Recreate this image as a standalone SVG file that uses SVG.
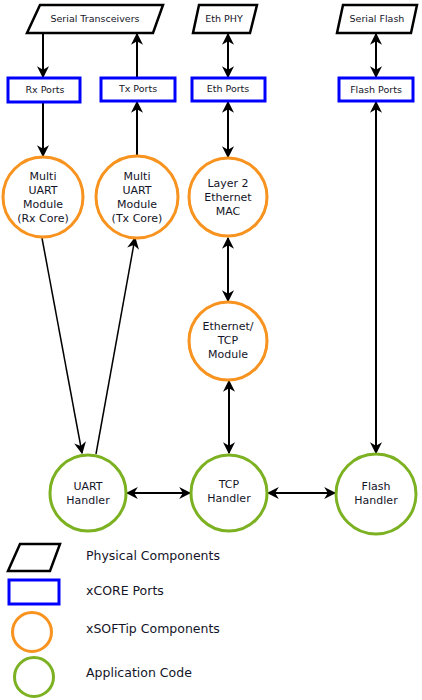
<svg xmlns="http://www.w3.org/2000/svg" width="422" height="700" viewBox="0 0 422 700">
<style>
.phys{fill:#fff;stroke:#000;stroke-width:2.5}
.port{fill:#fff;stroke:#0000ff;stroke-width:3}
.ip{fill:#fff;stroke:#f7931e;stroke-width:3}
.app{fill:#fff;stroke:#7cb122;stroke-width:3}
text{font-family:"DejaVu Sans",Verdana,sans-serif;fill:#141428;text-anchor:middle}
.s{font-size:9.5px}
.c{font-size:11px}
.l{font-size:12.5px;text-anchor:start}
.cn{stroke:#000;stroke-width:2;fill:none}
.dg{stroke:#000;stroke-width:1.5;fill:none}
</style>
<defs>
<marker id="ah" viewBox="0 0 10 10" refX="9" refY="5" markerWidth="12" markerHeight="12" markerUnits="userSpaceOnUse" orient="auto-start-reverse">
<path d="M0,0 L10,5 L0,10 L3,5 Z" fill="#000"/>
</marker>
</defs>
<g id="connectors">
<line class="cn" x1="43" y1="33" x2="43" y2="77" marker-end="url(#ah)"/>
<line class="cn" x1="137" y1="77" x2="137" y2="34" marker-end="url(#ah)"/>
<line class="cn" x1="228" y1="34" x2="228" y2="77" marker-start="url(#ah)" marker-end="url(#ah)"/>
<line class="cn" x1="376" y1="34" x2="376" y2="77" marker-start="url(#ah)" marker-end="url(#ah)"/>
<line class="cn" x1="43" y1="102" x2="43" y2="156" marker-end="url(#ah)"/>
<line class="cn" x1="137" y1="156" x2="137" y2="102" marker-end="url(#ah)"/>
<line class="cn" x1="228" y1="102" x2="228" y2="157" marker-start="url(#ah)" marker-end="url(#ah)"/>
<line class="cn" x1="376" y1="102" x2="376" y2="453" marker-start="url(#ah)" marker-end="url(#ah)"/>
<line class="cn" x1="228" y1="238" x2="228" y2="301" marker-start="url(#ah)" marker-end="url(#ah)"/>
<line class="cn" x1="229" y1="381" x2="229" y2="453" marker-start="url(#ah)" marker-end="url(#ah)"/>
<line class="dg" x1="42" y1="238" x2="82" y2="453" marker-end="url(#ah)"/>
<line class="dg" x1="96" y1="454" x2="135" y2="238" marker-end="url(#ah)"/>
<line class="cn" x1="127" y1="493" x2="190" y2="493" marker-start="url(#ah)" marker-end="url(#ah)"/>
<line class="cn" x1="268" y1="493" x2="335" y2="493" marker-start="url(#ah)" marker-end="url(#ah)"/>
</g>
<g id="serial-transceivers"><polygon class="phys" points="40,5 163,5 153,33 27,33"/><text class="s" x="95" y="22">Serial Transceivers</text></g>
<g id="eth-phy"><polygon class="phys" points="199,5 257,5 250,33 193,33"/><text class="s" x="224" y="22">Eth PHY</text></g>
<g id="serial-flash"><polygon class="phys" points="343,5 417,5 411,33 337,33"/><text class="s" x="377" y="22">Serial Flash</text></g>
<g id="rx-ports"><rect class="port" x="8" y="78" width="72" height="24"/><text class="s" x="45" y="93">Rx Ports</text></g>
<g id="tx-ports"><rect class="port" x="101" y="78" width="74" height="23"/><text class="s" x="138" y="92">Tx Ports</text></g>
<g id="eth-ports"><rect class="port" x="192" y="78" width="73" height="23"/><text class="s" x="228" y="92">Eth Ports</text></g>
<g id="flash-ports"><rect class="port" x="339" y="78" width="74" height="23"/><text class="s" x="376" y="93">Flash Ports</text></g>
<g id="uart-rx"><circle class="ip" cx="43" cy="197" r="40"/><text class="c"><tspan x="43" y="180">Multi</tspan><tspan x="43" y="194">UART</tspan><tspan x="43" y="208">Module</tspan><tspan x="43" y="222">(Rx Core)</tspan></text></g>
<g id="uart-tx"><circle class="ip" cx="137" cy="197" r="41"/><text class="c"><tspan x="137" y="180">Multi</tspan><tspan x="137" y="194">UART</tspan><tspan x="137" y="208">Module</tspan><tspan x="137" y="222">(Tx Core)</tspan></text></g>
<g id="eth-mac"><circle class="ip" cx="228" cy="197" r="39"/><text class="c"><tspan x="228" y="187">Layer 2</tspan><tspan x="228" y="201">Ethernet</tspan><tspan x="228" y="215">MAC</tspan></text></g>
<g id="eth-tcp"><circle class="ip" cx="228" cy="341" r="39"/><text class="c"><tspan x="228" y="330">Ethernet/</tspan><tspan x="228" y="344">TCP</tspan><tspan x="228" y="358">Module</tspan></text></g>
<g id="uart-handler"><circle class="app" cx="88" cy="493" r="38"/><text class="c"><tspan x="88" y="490">UART</tspan><tspan x="88" y="504">Handler</tspan></text></g>
<g id="tcp-handler"><circle class="app" cx="229" cy="493" r="38"/><text class="c"><tspan x="229" y="488">TCP</tspan><tspan x="229" y="502">Handler</tspan></text></g>
<g id="flash-handler"><circle class="app" cx="376" cy="494" r="40"/><text class="c"><tspan x="376" y="490">Flash</tspan><tspan x="376" y="504">Handler</tspan></text></g>
<g id="legend">
<polygon class="phys" points="20,544 60,544 50,571 8,571"/><text class="l" x="86" y="560">Physical Components</text>
<rect class="port" x="9" y="580" width="50" height="24"/><text class="l" x="86" y="595">xCORE Ports</text>
<circle class="ip" cx="32" cy="632" r="19.5"/><text class="l" x="86" y="633">xSOFTip Components</text>
<circle class="app" cx="34" cy="677" r="19.5"/><text class="l" x="86" y="677">Application Code</text>
</g>
</svg>
